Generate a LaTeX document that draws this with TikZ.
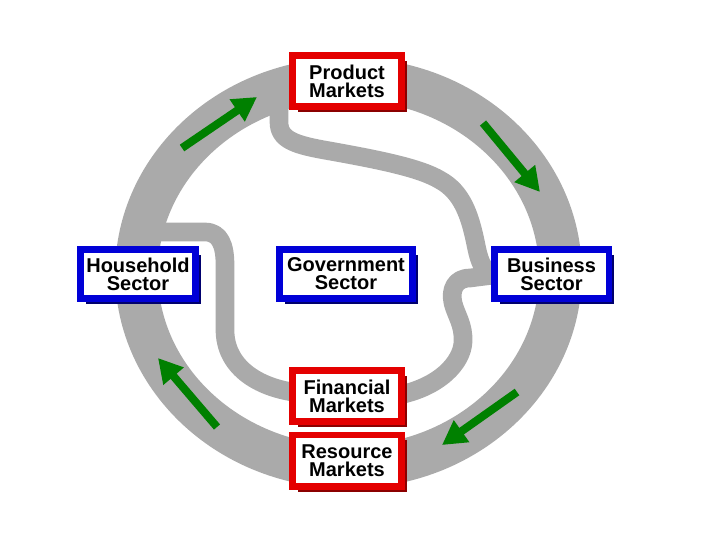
\documentclass[tikz,border=0pt]{standalone}
\usepackage{fontspec}
\setmainfont{Liberation Sans}
\usepackage{tikz}
\usepackage{xcolor}
\usetikzlibrary{positioning, arrows.meta, shadows, backgrounds}

\definecolor{ringgray}{RGB}{170,170,170}
\definecolor{flowgreen}{RGB}{0,128,0}
\definecolor{mktred}{RGB}{228,0,0}
\definecolor{mktdark}{RGB}{140,0,0}
\definecolor{secblue}{RGB}{0,0,215}
\definecolor{secdark}{RGB}{0,0,110}

\begin{document}
\begin{tikzpicture}[x=0.75pt,y=0.75pt,yscale=-1,xscale=1,
  sbox/.style={fill=white, line width=5pt, inner sep=1pt, align=center,
    font=\fontsize{15}{13.5}\selectfont\bfseries},
  mkt/.style={sbox, draw=mktred, minimum width=82pt, minimum height=38.5pt,
    drop shadow={shadow xshift=4pt, shadow yshift=-4pt, fill=mktdark, opacity=1}},
  sec/.style={sbox, draw=secblue, minimum width=86pt, minimum height=37pt,
    drop shadow={shadow xshift=4pt, shadow yshift=-4pt, fill=secdark, opacity=1}},
  ring/.style={draw=ringgray, line width=32pt},
  band/.style={draw=ringgray, line width=14pt, line join=round},
  flowarrow/.style={draw=flowgreen, line width=6pt,
    -{Triangle[length=18pt, width=19pt]}}]
\useasboundingbox (0,0) rectangle (720,540);

% Text Node
\node[mkt] (prod) at (347,81) {Product\\Markets};
% Text Node
\node[sec] (hous) at (138,274) {Household\\Sector};
% Text Node
\node[sec, minimum width=100pt] (govt) at (346,274) {Government\\Sector};
% Text Node
\node[sec] (busi) at (551.5,274) {Business\\Sector};
% Text Node
\node[mkt] (fin) at (347,396) {Financial\\Markets};
% Text Node
\node[mkt] (res) at (347,460.5) {Resource\\Markets};

\begin{scope}[on background layer]
%Ring
\draw[ring] (348.5,273) ellipse [x radius=159pt, y radius=145.5pt];
%Product to Business
\draw[band] (279,95) -- (279,122) .. controls (279,140) and (295,145) .. (330,151)
  .. controls (380,160) and (420,168) .. (440,180)
  .. controls (462,192) and (470,215) .. (476,245)
  .. controls (480,265) and (485,277) .. ([xshift=8pt]busi.west);
%Business to Financial
\draw[band] ([xshift=8pt]busi.west) -- (470,278) .. controls (455,278) and (450,290) .. (453,303)
  .. controls (456,315) and (464,325) .. (463,342)
  .. controls (462,362) and (440,388) .. ([xshift=-8pt]fin.east);
%Household to Financial
\draw[band] (150,232) -- (205,232) .. controls (220,232) and (225,245) .. (225,265)
  -- (225,330) .. controls (225,365) and (255,388) .. (300,393);
\end{scope}

%Arrows
\draw[flowarrow] (182,148) -- (257,97);
\draw[flowarrow] (483,123) -- (540,192);
\draw[flowarrow] (517,392) -- (442,445);
\draw[flowarrow] (217,427) -- (158,358);

\end{tikzpicture}
\end{document}
